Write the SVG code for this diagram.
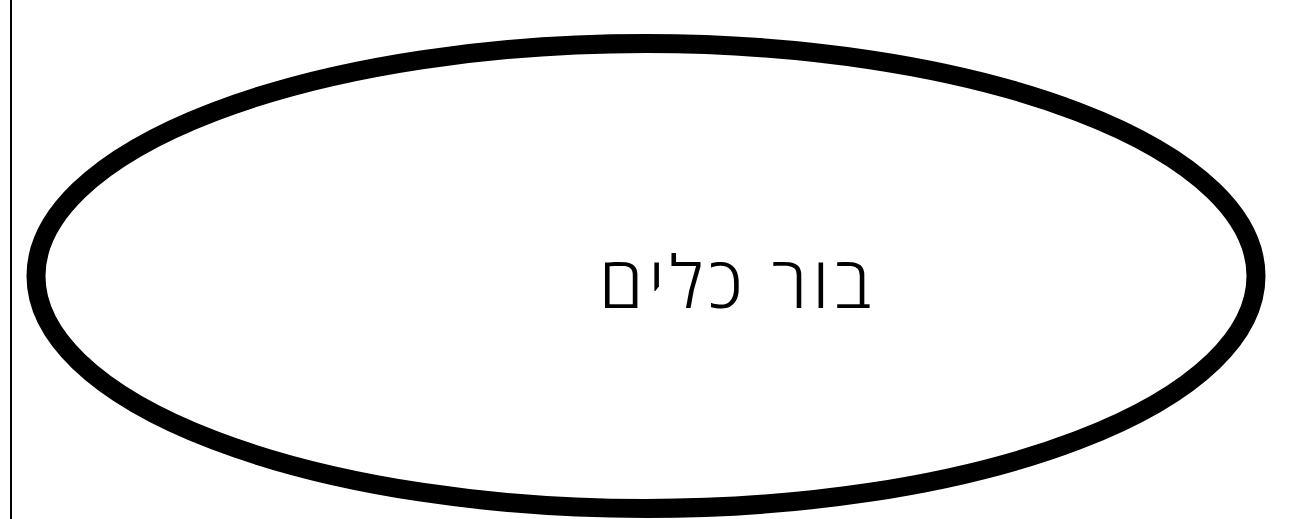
<svg xmlns="http://www.w3.org/2000/svg" width="1292" height="519" viewBox="0 0 1292 519">
<style>
.node-shape{fill:#ffffff;stroke:#000000;stroke-width:19}
.label{font-family:"Open Sans","DejaVu Sans",sans-serif;font-weight:300;font-size:72px;fill:#000000}
.edge{stroke:#000000;stroke-width:2;fill:none}
</style>
<rect x="0" y="0" width="1292" height="519" fill="#ffffff"/>
<g id="connectors">
<line class="edge" x1="11" y1="0" x2="11" y2="519"/>
</g>
<g id="node-bor-kelim">
<ellipse class="node-shape" cx="646" cy="276" rx="610" ry="232.5"/>
<text class="label" x="735" y="308" text-anchor="middle" direction="rtl" textLength="272" lengthAdjust="spacing">בור כלים</text>
</g>
</svg>
